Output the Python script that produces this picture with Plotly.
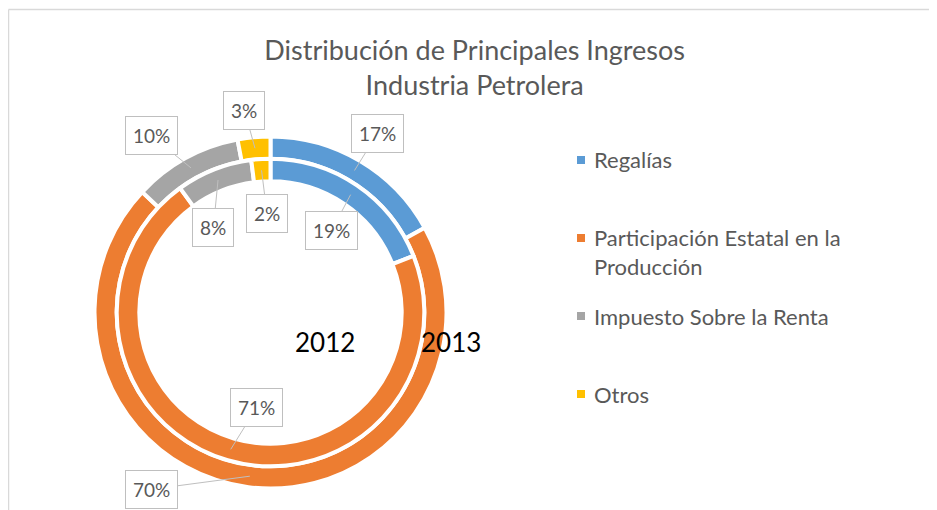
import math
import textwrap
import plotly.graph_objects as go

# ---------------- data ----------------
categories = ["Regalías", "Participación Estatal en la Producción",
              "Impuesto Sobre la Renta", "Otros"]
years = ["2012", "2013"]
values_2012 = [19, 71, 8, 2]      # inner ring
values_2013 = [17, 70, 10, 3]     # outer ring
colors = ["#5B9BD5", "#ED7D31", "#A5A5A5", "#FFC000"]
title_lines = ["Distribución de Principales Ingresos", "Industria Petrolera"]

# ---------------- layout constants (window pixels) ----------------
PAGE_OFF = 8                 # default body margin of the html page
W, H = 937 - PAGE_OFF, 510 - PAGE_OFF
CX, CY = 270.5, 312.5
LINE_W = 4
R_OUT, HOLE_OUT = 176.0, 0.874
R_IN, HOLE_IN = 153.8, 0.853
MID_OUT, MID_IN = 165.0, 142.5
FONT = "Lato, 'Open Sans', sans-serif"
GREY_TXT = "#595959"

# callout-box offsets (pixels) from slice point, per ring
off_out = [(23, -37), (-98, 13), (-39.5, -32), (-10.5, -38)]
off_in = [(-19, 36), (26, -42), (-4.6, 47), (5.4, 43)]


def px(x, y):
    return (x - PAGE_OFF) / W, 1 - (y - PAGE_OFF) / H


def domain(r):
    x0, y1 = px(CX - r, CY - r)
    x1, y0 = px(CX + r, CY + r)
    return dict(x=[x0, x1], y=[y0, y1])


fig = go.Figure()
for vals, r, hole in [(values_2013, R_OUT, HOLE_OUT), (values_2012, R_IN, HOLE_IN)]:
    fig.add_trace(go.Pie(
        labels=categories, values=vals, hole=hole, sort=False,
        direction="clockwise", rotation=0, domain=domain(r),
        marker=dict(colors=colors, line=dict(color="white", width=LINE_W)),
        textinfo="none", hoverinfo="label+percent", showlegend=False,
    ))

annotations = []
# data-label callouts
for vals, rmid, offs in [(values_2013, MID_OUT, off_out), (values_2012, MID_IN, off_in)]:
    total = sum(vals)
    cum = 0
    for v, (ax, ay) in zip(vals, offs):
        mid = (cum + v / 2) / total
        cum += v
        th = 2 * math.pi * mid
        tx, ty = CX + rmid * math.sin(th), CY - rmid * math.cos(th)
        xp, yp = px(tx, ty)
        annotations.append(dict(
            x=xp, y=yp, xref="paper", yref="paper",
            text=f"{round(100 * v / total)}%", showarrow=True,
            ax=ax, ay=ay, arrowhead=0, arrowwidth=1, arrowcolor="#BFBFBF",
            standoff=0, startstandoff=0,
            bordercolor="#BFBFBF", borderwidth=1, borderpad=7, bgcolor="white",
            font=dict(family=FONT, size=19, color=GREY_TXT),
        ))

# year labels
for yr, (x, y) in zip(years, [(325, 342), (451, 342)]):
    xp, yp = px(x, y)
    annotations.append(dict(x=xp, y=yp, xref="paper", yref="paper", text=yr,
                            showarrow=False, font=dict(family=FONT, size=26, color="black")))

# manual legend
shapes = []
LEG_X_SQ, LEG_X_TXT, LEG_Y0, LEG_STEP, LEG_FS, SQ = 581, 592, 160, 78, 22, 8
for i, (cat, col) in enumerate(zip(categories, colors)):
    yrow = LEG_Y0 + i * LEG_STEP
    lines = textwrap.wrap(cat, 28)
    lh = LEG_FS * 1.3
    x0, y0 = px(LEG_X_SQ - SQ / 2, yrow + SQ / 2)
    x1, y1 = px(LEG_X_SQ + SQ / 2, yrow - SQ / 2)
    shapes.append(dict(type="rect", xref="paper", yref="paper", x0=x0, x1=x1, y0=y0, y1=y1,
                       fillcolor=col, line=dict(width=0)))
    xp, yp = px(LEG_X_TXT, yrow + (len(lines) - 1) * lh / 2)
    annotations.append(dict(x=xp, y=yp, xref="paper", yref="paper", text="<br>".join(lines),
                            showarrow=False, xanchor="left", yanchor="middle", align="left",
                            font=dict(family=FONT, size=LEG_FS, color=GREY_TXT)))

# chart border (partially visible)
for (xa, ya, xb, yb) in [(8.5, 9.5, 937, 9.5), (8.5, 9.5, 8.5, 510)]:
    p0, p1 = px(xa, ya), px(xb, yb)
    shapes.append(dict(type="line", xref="paper", yref="paper", x0=p0[0], y0=p0[1],
                       x1=p1[0], y1=p1[1], line=dict(color="#D9D9D9", width=1.5)))

tx, ty = px(474.7, 60)
fig.update_layout(
    width=W, height=H, margin=dict(l=0, r=0, t=0, b=0),
    paper_bgcolor="white", plot_bgcolor="white",
    title=dict(text="<br>".join(title_lines), x=tx, xanchor="center", xref="container",
               y=ty, yanchor="middle", yref="container",
               font=dict(family=FONT, size=27, color=GREY_TXT)),
    annotations=annotations, shapes=shapes,
)

fig.write_html("out.html")
